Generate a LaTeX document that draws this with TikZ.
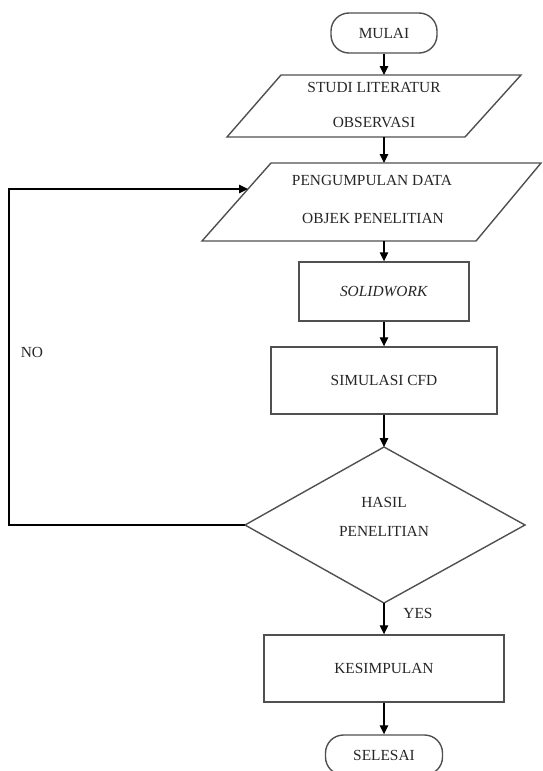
\documentclass[tikz,border=0pt]{standalone}
\usepackage{fontspec}
\setmainfont{Liberation Serif}
\usetikzlibrary{arrows.meta}
\definecolor{ln}{HTML}{505050}
\definecolor{tx}{HTML}{262626}
\begin{document}
\begin{tikzpicture}[x=1pt,y=-1pt,
  shp/.style={draw=ln,line width=1.4pt},
  txt/.style={text=tx,font=\fontsize{15.4}{18}\selectfont,inner sep=0pt},
  arr/.style={draw=black,line width=1.2pt,-{Triangle[length=9pt,width=8.5pt]}},
  lp/.style={draw=black,line width=1.2pt}]
\useasboundingbox (0,0) rectangle (542,771);
\clip (0,0) rectangle (542,771);
% terminators
\node[shp,txt,rounded corners=18pt,minimum width=106pt,minimum height=40pt] (mulai) at (384,33) {MULAI};
\node[shp,txt,rounded corners=18pt,minimum width=117pt,minimum height=40pt] (selesai) at (384,755) {SELESAI};
% parallelogram 1
\draw[shp] (281,75) -- (521,75) -- (465,137) -- (227,137) -- cycle;
\coordinate (studiT) at (384,75);
\coordinate (studiB) at (384,137);
\node[txt] (studi1) at (374,87) {STUDI LITERATUR};
\node[txt] (studi2) at (374,123) {OBSERVASI};
% parallelogram 2
\draw[shp] (271,163) -- (541,163) -- (476,241) -- (202,241) -- cycle;
\coordinate (pengT) at (384,163);
\coordinate (pengB) at (384,241);
\coordinate (pengL) at (248,189);
\node[txt] (peng1) at (372,180) {PENGUMPULAN DATA};
\node[txt] (peng2) at (373,218) {OBJEK PENELITIAN};
% rectangles
\node[shp,txt,minimum width=170pt,minimum height=59pt] (solid) at (384,291.5) {\textit{SOLIDWORK}};
\node[shp,txt,minimum width=226pt,minimum height=67pt] (sim) at (384,380.5) {SIMULASI CFD};
\node[shp,txt,minimum width=240pt,minimum height=67pt] (kes) at (384,668.5) {KESIMPULAN};
% diamond
\draw[shp] (384,447) coordinate (dT) -- (525,525) coordinate (dR) -- (384,603) coordinate (dB) -- (245,525) coordinate (dL) -- cycle;
\node[txt] (hasil1) at (384,502) {HASIL};
\node[txt] (hasil2) at (384,531) {PENELITIAN};
% labels
\node[txt] (no) at (32,352) {NO};
\node[txt] (yes) at (418,613) {YES};
% connectors
\draw[arr] (mulai.south) -- (studiT);
\draw[arr] (studiB) -- (pengT);
\draw[arr] (pengB) -- (solid.north);
\draw[arr] (solid.south) -- (sim.north);
\draw[arr] (sim.south) -- (dT);
\draw[arr] (dB) -- (kes.north);
\draw[arr] (kes.south) -- (selesai.north);
\coordinate (loopB) at (9,525);
\draw[arr] (dL) -- (loopB) |- (pengL);
\end{tikzpicture}
\end{document}
